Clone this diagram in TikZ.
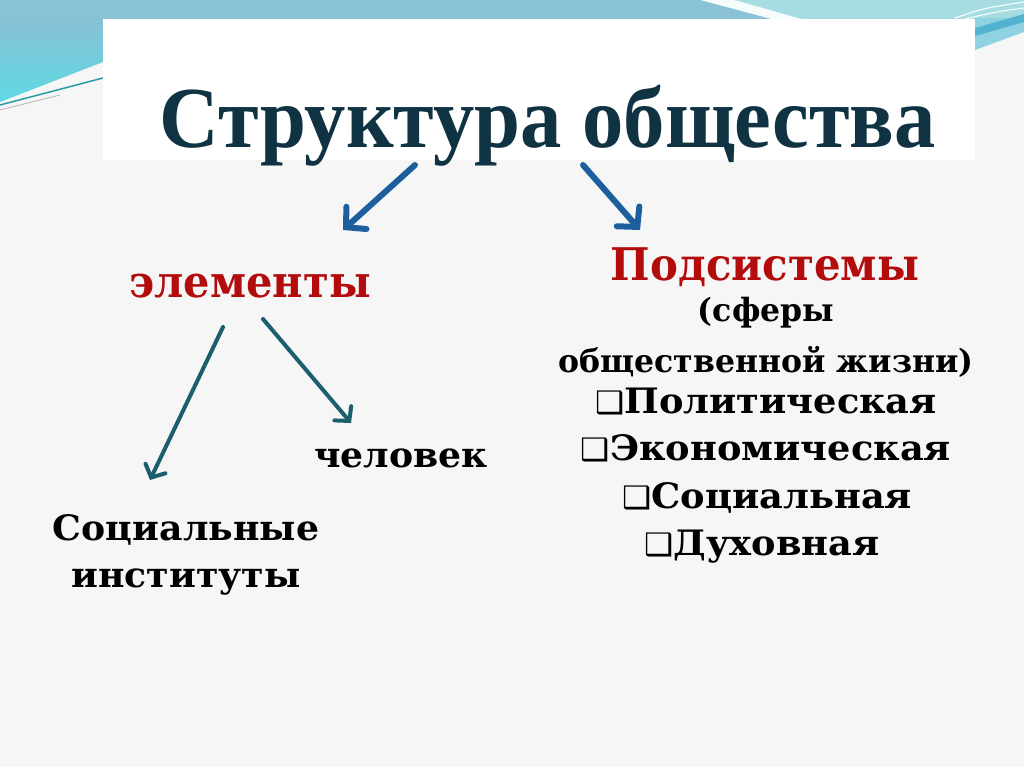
\documentclass[tikz,border=0pt]{standalone}
\usepackage{fontspec}
\setmainfont{DejaVu Serif}
\newfontfamily\titlefont{Liberation Serif}
\newfontfamily\symfont{DejaVu Sans}
\usetikzlibrary{arrows.meta}
\definecolor{bgcol}{HTML}{F6F6F6}
\definecolor{titlecol}{HTML}{0F3342}
\definecolor{redcol}{HTML}{B30C0C}
\definecolor{arrowblue}{HTML}{1D5E9E}
\definecolor{arrowteal}{HTML}{1B5E6E}
\definecolor{bandleft}{HTML}{8AC3D5}
\definecolor{bandright}{HTML}{A6DDE3}
\definecolor{wedgetop}{HTML}{88C0D5}
\definecolor{wedgebot}{HTML}{5ED9E3}
\definecolor{tealline}{HTML}{2A9BA6}
\definecolor{rightfill}{HTML}{8FD2E1}
\definecolor{rightstripe}{HTML}{52B2D2}
\newcommand{\bul}{{\symfont\fontsize{31}{31}\selectfont ❑}}
\newcommand{\sx}[2]{\scalebox{#1}[1]{#2}}
\tikzset{
  txt/.style={anchor=base, inner sep=0pt},
  titlestyle/.style={txt, text=titlecol, font=\titlefont\bfseries\fontsize{87}{87}\selectfont},
  redbig/.style={txt, text=redcol, font=\bfseries\fontsize{44}{44}\selectfont},
  blk/.style={txt, text=black, font=\bfseries\fontsize{32}{32}\selectfont},
  blkbig/.style={txt, text=black, font=\bfseries\fontsize{35}{35}\selectfont},
  toparrow/.style={draw=arrowblue, line width=6pt, line cap=round, -{Straight Barb[length=14pt,width=30pt,line cap=round]}},
  lowarrow/.style={draw=arrowteal, line width=4pt, line cap=round, -{Straight Barb[length=10pt,width=22pt,line cap=round]}}
}
\begin{document}
\begin{tikzpicture}[x=1pt,y=-1pt]
\useasboundingbox (0,0) rectangle (1024,767);
\fill[bgcol] (0,0) rectangle (1024,767);
% top band
\fill[white!90!bandright] (0,0) rectangle (1024,20);
\fill[bandleft] (0,0) -- (700,0) -- (775,20) -- (0,20) -- cycle;
\fill[bandright] (735,0) -- (1024,0) -- (1024,20) -- (805,20) -- cycle;
% left wedge
\shade[top color=wedgetop, bottom color=wedgebot] (0,18) -- (103,18) -- (103,62) -- (0,102) -- cycle;
\draw[tealline, line width=1.5pt] (103,78) -- (0,105);
\draw[gray!60, line width=0.8pt] (60,95) -- (0,110);
% right decoration
\fill[rightfill] (975,18) -- (1024,18) -- (1024,32) -- (975,50) -- cycle;
\fill[rightstripe] (975,28) -- (1024,14) -- (1024,22) -- (975,36) -- cycle;
\draw[white, line width=1pt] (955,18) .. controls (985,8) .. (1024,2);
\draw[white, line width=1pt] (965,19) .. controls (995,12) .. (1024,8);
% title panel
\fill[white] (103,19) rectangle (975,160);
\node[titlestyle] (title) at (548,148) {\sx{0.95}{Структура общества}};
% texts
\node[redbig] (elem) at (250,297) {\sx{0.945}{элементы}};
\node[redbig, font=\bfseries\fontsize{45}{45}\selectfont] (podsys) at (765,280) {\sx{0.93}{Подсистемы}};
\node[blk] (sfery1) at (766,321) {\sx{0.985}{(сферы}};
\node[blk] (sfery2) at (766,372) {\sx{0.985}{общественной жизни)}};
\node[blkbig] (pol) at (766,413) {\sx{1.05}{\bul Политическая}};
\node[blkbig] (eco) at (766,460) {\sx{1.05}{\bul Экономическая}};
\node[blkbig] (soc) at (767,508) {\sx{1.05}{\bul Социальная}};
\node[blkbig] (duh) at (762,555) {\sx{1.05}{\bul Духовная}};
\node[blkbig] (chel) at (401,467) {\sx{1.035}{человек}};
\node[blkbig] (inst1) at (186,540) {\sx{1.035}{Социальные}};
\node[blkbig] (inst2) at (186,587) {\sx{1.035}{институты}};
% arrow end points
\coordinate (tlS) at (415,165); \coordinate (tlE) at (343,230);
\coordinate (trS) at (583,165); \coordinate (trE) at (640,230);
\coordinate (llS) at (223,327); \coordinate (llE) at (150,480);
\coordinate (lrS) at (263,319); \coordinate (lrE) at (351,423);
\draw[toparrow] (tlS) -- (tlE);
\draw[toparrow] (trS) -- (trE);
\draw[lowarrow] (llS) -- (llE);
\draw[lowarrow] (lrS) -- (lrE);
\end{tikzpicture}
\end{document}
